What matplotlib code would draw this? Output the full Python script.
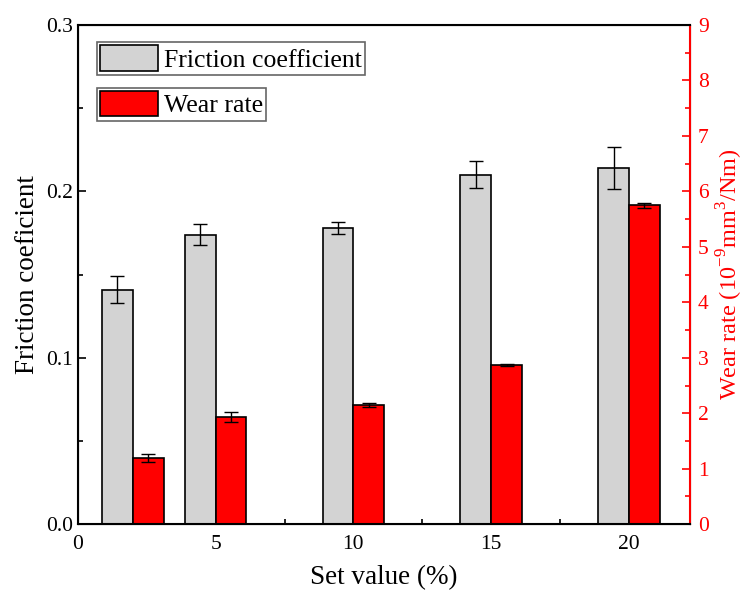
import numpy as np
import matplotlib.pyplot as plt
from matplotlib.ticker import MultipleLocator

plt.rcParams['font.family'] = ['Liberation Serif', 'DejaVu Serif']
plt.rcParams['mathtext.fontset'] = 'custom'
plt.rcParams['mathtext.rm'] = 'Liberation Serif'
plt.rcParams['axes.unicode_minus'] = False

set_values = [2, 5, 10, 15, 20]
friction = [0.141, 0.174, 0.178, 0.210, 0.214]
friction_err = [0.008, 0.0065, 0.0036, 0.008, 0.0125]
wear = [1.19, 1.94, 2.15, 2.87, 5.75]
wear_err = [0.075, 0.09, 0.03, 0.025, 0.045]

w = 1.12
x = np.array(set_values, dtype=float)

fig = plt.figure(figsize=(7.48, 5.95), dpi=100)
ax1 = fig.add_axes([0.104, 0.119, 0.818, 0.839])
ax2 = ax1.twinx()

b1 = ax1.bar(x - w / 2, friction, width=w, color='lightgray', edgecolor='black',
             linewidth=1.2, yerr=friction_err, capsize=5,
             error_kw=dict(elinewidth=1, capthick=1, ecolor='black'),
             label='Friction coefficient', zorder=2)
b2 = ax2.bar(x + w / 2, wear, width=w, color='red', edgecolor='black',
             linewidth=1.2, yerr=wear_err, capsize=5,
             error_kw=dict(elinewidth=1, capthick=1, ecolor='black'),
             label='Wear rate', zorder=2)

ax1.set_xlim(0, 22.2)
ax1.set_ylim(0, 0.3)
ax2.set_ylim(0, 9)

ax1.xaxis.set_major_locator(MultipleLocator(5))
ax1.xaxis.set_minor_locator(MultipleLocator(2.5))
ax1.yaxis.set_major_locator(MultipleLocator(0.1))
ax1.yaxis.set_minor_locator(MultipleLocator(0.05))
ax2.yaxis.set_major_locator(MultipleLocator(1))
ax2.yaxis.set_minor_locator(MultipleLocator(0.5))

ax1.tick_params(axis='both', which='both', direction='in', labelsize=15.5, width=1.2)
ax1.tick_params(axis='both', which='major', length=6)
ax1.tick_params(axis='both', which='minor', length=3.5)
ax1.tick_params(axis='y', right=False)
ax1.tick_params(axis='x', pad=8)
ax2.tick_params(axis='y', which='both', direction='in', labelsize=15.5, width=1.2,
                colors='red', pad=6)
ax2.tick_params(axis='y', which='major', length=6)
ax2.tick_params(axis='y', which='minor', length=3.5)

ax1.yaxis.set_major_formatter(plt.FuncFormatter(lambda v, p: '%.1f' % v))

for s in ['left', 'top', 'bottom']:
    ax2.spines[s].set_linewidth(1.5)
ax2.spines['right'].set_color('red')
ax2.spines['right'].set_linewidth(1.5)

ax1.set_xlabel('Set value (%)', fontsize=19.5, labelpad=8)
ax1.set_ylabel('Friction coeficient', fontsize=19.5, labelpad=4)
ax2.set_ylabel('Wear rate (10$^{-9}$mm$^{3}$/Nm)', fontsize=17.5, color='red',
               labelpad=4)

leg_kw = dict(loc='upper left', fontsize=18.5, handlelength=2.25, handleheight=1.15,
              fancybox=False, edgecolor='0.4', framealpha=1, borderpad=0.12,
              handletextpad=0.25, borderaxespad=0)
l1 = ax2.legend(handles=[b1], bbox_to_anchor=(0.031, 0.966), **leg_kw)
ax2.add_artist(l1)
l2 = ax2.legend(handles=[b2], bbox_to_anchor=(0.031, 0.874), **leg_kw)
for l in (l1, l2):
    l.get_frame().set_linewidth(1.2)

plt.savefig('out.png', dpi=100)
